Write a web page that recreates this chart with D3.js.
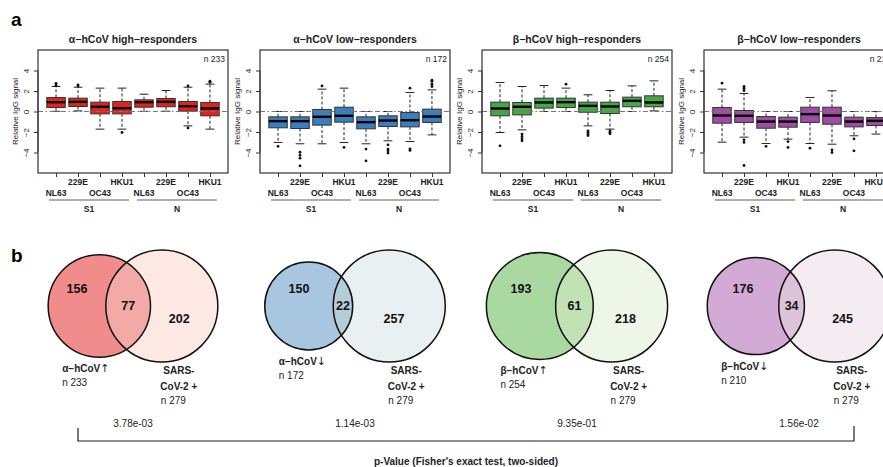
<!DOCTYPE html>
<html>
<head>
<meta charset="utf-8">
<script src="https://cdn.jsdelivr.net/npm/d3@7/dist/d3.min.js"></script>
<style>
  html, body { margin: 0; padding: 0; background: #fff; }
  svg { display: block; }
  text { font-family: "Liberation Sans", Arial, Helvetica, sans-serif; }
</style>
</head>
<body>
<svg id="fig" width="883" height="467"></svg>
<script>
// ---------- Panel a: box plots of relative IgG signal ----------
const antigens = ["NL63", "229E", "OC43", "HKU1", "NL63", "229E", "OC43", "HKU1"];
const proteinGroups = ["S1", "N"];
const panelTitles = ["α−hCoV high−responders", "α−hCoV low−responders", "β−hCoV high−responders", "β−hCoV low−responders"];
const panelN = [233, 172, 254, 210];
const yTicks = [-4, -2, 0, 2, 4];

// each box: [lower whisker, Q1, median, Q3, upper whisker]
const alphaHighBoxes = [
  [0.02, 0.39, 0.91, 1.37, 2.44], [0.06, 0.49, 0.94, 1.30, 2.37],
  [-1.72, -0.23, 0.46, 0.91, 2.28], [-1.72, -0.23, 0.32, 0.98, 2.28],
  [0.02, 0.42, 0.91, 1.14, 1.69], [0.03, 0.46, 0.94, 1.27, 2.05],
  [-1.40, 0.03, 0.52, 0.98, 2.37], [-1.72, -0.42, 0.30, 0.88, 2.67]
];
const alphaHighOutliers = [[2.55, 2.75], [2.48, 2.6], [], [-2.05], [], [], [2.5, -1.6], [2.85, 2.95]];

const alphaLowBoxes = [
  [-3.02, -1.59, -0.94, -0.52, 0.0], [-3.15, -1.66, -0.94, -0.52, 0.0],
  [-3.15, -1.33, -0.52, 0.20, 2.18], [-3.02, -1.04, -0.42, 0.42, 2.28],
  [-3.15, -1.69, -1.04, -0.52, 0.0], [-2.86, -1.46, -0.88, -0.42, 0.0],
  [-2.93, -1.50, -0.85, -0.10, 1.85], [-2.28, -1.07, -0.49, 0.23, 2.11]
];
const alphaLowOutliers = [[-3.4], [-3.97, -4.26, -4.55, -5.3], [2.5], [-3.5], [-3.67, -4.81],
  [-3.25, -3.67, -3.84, -4.06], [2.28, -3.64, -3.8], [2.44, 2.67, 2.93, 3.05]];

const betaHighBoxes = [
  [-2.05, -0.42, 0.29, 0.91, 2.83], [-1.79, -0.33, 0.46, 0.88, 2.44],
  [0.0, 0.33, 0.88, 1.30, 2.54], [0.0, 0.39, 0.91, 1.30, 2.28],
  [-1.40, -0.07, 0.55, 0.91, 1.63], [-1.72, -0.20, 0.49, 0.91, 2.05],
  [0.0, 0.46, 1.04, 1.40, 2.50], [0.06, 0.46, 0.88, 1.53, 2.99]
];
const betaHighOutliers = [[-3.35], [-2.2, -2.44, -2.67, -2.86], [], [2.67], [-1.89, -2.05, -2.2, -2.34],
  [-1.89, -2.02, -2.18], [], []];

const betaLowBoxes = [
  [-2.99, -1.14, -0.39, 0.39, 2.18], [-2.50, -1.07, -0.42, 0.10, 1.76],
  [-3.12, -1.63, -0.98, -0.49, 0.0], [-2.70, -1.53, -0.98, -0.55, 0.0],
  [-3.12, -1.07, -0.26, 0.42, 1.37], [-3.19, -1.24, -0.39, 0.42, 2.02],
  [-2.37, -1.50, -0.98, -0.55, 0.0], [-2.20, -1.37, -0.91, -0.59, 0.0]
];
const betaLowOutliers = [[2.76], [2.05, 2.28, 2.44, -2.76, -3.02, -5.27], [-3.4], [-2.93, -3.5], [-3.58],
  [-3.74, -4.0], [-2.67, -3.84], []];

const panelBoxes = [alphaHighBoxes, alphaLowBoxes, betaHighBoxes, betaLowBoxes];
const panelOutliers = [alphaHighOutliers, alphaLowOutliers, betaHighOutliers, betaLowOutliers];
const boxColors = ["#e2221c", "#3a7ebf", "#45a845", "#a04ca6"];

// ---------- Panel b: Venn diagrams ----------
const vennLeftLabels = ["α−hCoV", "α−hCoV", "β−hCoV", "β−hCoV"];
const vennArrows = ["↑", "↓", "↑", "↓"];
const vennLeftN = [233, 172, 254, 210];
const vennLeftOnly = [156, 150, 193, 176];
const vennShared = [77, 22, 61, 34];
const vennSarsOnly = [202, 257, 218, 245];
const sarsN = 279;
const pValues = ["3.78e-03", "1.14e-03", "9.35e-01", "1.56e-02"];
const vennLeftFill = ["#f08c8c", "#a8c6e0", "#a9d9a0", "#d3a9d5"];
const vennRightFill = ["#fde8e3", "#e9f0f2", "#eef6e8", "#f4ecf1"];
const vennOverlapFill = ["#f3aaa7", "#b6ccd8", "#c2e2b6", "#dcc3da"];

const svg = d3.select("#fig");
const colStep = 222;

// panel letters
svg.append("text").attr("x", 11).attr("y", 26).attr("font-size", 19).attr("font-weight", "bold").text("a");
svg.append("text").attr("x", 11).attr("y", 262).attr("font-size", 19).attr("font-weight", "bold").text("b");

panelBoxes.forEach((boxes, p) => {
  const left = 38 + colStep * p, width = 190, top = 50, bottom = 173;
  const x = d3.scaleLinear().domain([0.18, 8.82]).range([left, left + width]);
  const y = d3.scaleLinear().domain([-6, 6]).range([bottom, top]);
  const g = svg.append("g");
  const color = boxColors[p];

  g.append("text").attr("x", left + width / 2).attr("y", 43).attr("text-anchor", "middle")
    .attr("font-size", 10.5).attr("font-weight", "bold").attr("fill", "#222").text(panelTitles[p]);

  // y axis with rotated tick labels
  const yAxis = d3.axisLeft(y).tickValues(yTicks).tickSize(4).tickPadding(2);
  const ya = g.append("g").attr("transform", `translate(${left},0)`).call(yAxis);
  ya.select(".domain").attr("d", `M0,${y(-4)}V${y(4)}`).attr("stroke", "#333");
  ya.selectAll(".tick line").attr("stroke", "#333");
  ya.selectAll(".tick text").attr("font-size", 8).attr("fill", "#222")
    .attr("font-family", "Liberation Sans, Arial, sans-serif")
    .attr("text-anchor", "middle").attr("transform", "rotate(-90)")
    .attr("x", 0).attr("y", -9).attr("dy", "0em");

  g.append("text").attr("transform", `translate(${left - 20},${y(0)}) rotate(-90)`)
    .attr("text-anchor", "middle").attr("font-size", 8).attr("fill", "#222").text("Relative IgG signal");

  // x ticks
  const xa = g.append("g").attr("transform", `translate(0,${bottom})`)
    .call(d3.axisBottom(x).tickValues(d3.range(1, 9)).tickSize(4).tickFormat(""));
  xa.select(".domain").remove();
  xa.selectAll(".tick line").attr("stroke", "#333");

  antigens.forEach((a, i) => {
    const up = i % 2 === 1;
    g.append("text").attr("x", x(i + 1)).attr("y", up ? 185 : 196).attr("text-anchor", "middle")
      .attr("font-size", 8.5).attr("font-weight", "bold").attr("fill", "#222").text(a);
  });
  proteinGroups.forEach((gr, k) => {
    const x0 = x(1 + 4 * k) - 7, x1 = x(4 + 4 * k) + 7;
    g.append("line").attr("x1", x0).attr("x2", x1).attr("y1", 200).attr("y2", 200)
      .attr("stroke", "#333").attr("stroke-width", 0.8);
    g.append("text").attr("x", (x0 + x1) / 2).attr("y", 212).attr("text-anchor", "middle")
      .attr("font-size", 8.5).attr("font-weight", "bold").attr("fill", "#222").text(gr);
  });

  const clipId = "clipA" + p;
  g.append("clipPath").attr("id", clipId).append("rect")
    .attr("x", left).attr("y", top).attr("width", width).attr("height", bottom - top);
  const plot = g.append("g").attr("clip-path", `url(#${clipId})`);

  const bw = x(0.84) - x(0), cw = x(0.4) - x(0);
  boxes.forEach((b, i) => {
    const cx = x(i + 1);
    const [lo, q1, med, q3, hi] = b;
    // whiskers
    plot.append("line").attr("x1", cx).attr("x2", cx).attr("y1", y(q3)).attr("y2", y(hi))
      .attr("stroke", "#222").attr("stroke-dasharray", "3,2").attr("stroke-width", 1);
    plot.append("line").attr("x1", cx).attr("x2", cx).attr("y1", y(q1)).attr("y2", y(lo))
      .attr("stroke", "#222").attr("stroke-dasharray", "3,2").attr("stroke-width", 1);
    [lo, hi].forEach(v => plot.append("line").attr("x1", cx - cw / 2).attr("x2", cx + cw / 2)
      .attr("y1", y(v)).attr("y2", y(v)).attr("stroke", "#222").attr("stroke-width", 1));
    plot.append("rect").attr("x", cx - bw / 2).attr("y", y(q3)).attr("width", bw)
      .attr("height", y(q1) - y(q3)).attr("fill", color).attr("stroke", "#333").attr("stroke-width", 1);
    plot.append("line").attr("x1", cx - bw / 2).attr("x2", cx + bw / 2)
      .attr("y1", y(med)).attr("y2", y(med)).attr("stroke", "#000").attr("stroke-width", 2.4);
    panelOutliers[p][i].forEach(v => plot.append("circle").attr("cx", cx).attr("cy", y(v))
      .attr("r", 1.4).attr("fill", "#111"));
  });

  // reference line at zero
  plot.append("line").attr("x1", left).attr("x2", left + width).attr("y1", y(0)).attr("y2", y(0))
    .attr("stroke", "#777").attr("stroke-width", 1).attr("stroke-dasharray", "5,2.5,1.5,2.5");

  g.append("rect").attr("x", left).attr("y", top).attr("width", width).attr("height", bottom - top)
    .attr("fill", "none").attr("stroke", "#333").attr("stroke-width", 1.2);

  g.append("text").attr("x", left + width - 3).attr("y", 62).attr("text-anchor", "end")
    .attr("font-size", 8.5).attr("fill", "#222").text("n " + panelN[p]);
});

// ---------- Venn diagrams, area proportional to counts ----------
const rScale = d3.scaleSqrt().domain([0, sarsN]).range([0, 56]);

function lensArea(r1, r2, d) {
  if (d >= r1 + r2) return 0;
  if (d <= Math.abs(r1 - r2)) return Math.PI * Math.min(r1, r2) ** 2;
  const a1 = r1 * r1 * Math.acos((d * d + r1 * r1 - r2 * r2) / (2 * d * r1));
  const a2 = r2 * r2 * Math.acos((d * d + r2 * r2 - r1 * r1) / (2 * d * r2));
  const t = 0.5 * Math.sqrt((-d + r1 + r2) * (d + r1 - r2) * (d - r1 + r2) * (d + r1 + r2));
  return a1 + a2 - t;
}
function centerDistance(r1, r2, target) {
  let lo = Math.abs(r1 - r2), hi = r1 + r2;
  for (let k = 0; k < 60; k++) {
    const mid = (lo + hi) / 2;
    if (lensArea(r1, r2, mid) > target) lo = mid; else hi = mid;
  }
  return (lo + hi) / 2;
}

const vennCy = 306;
vennLeftN.forEach((n, i) => {
  const colX = 133 + colStep * i;
  const r1 = rScale(n), r2 = rScale(sarsN);
  const d = centerDistance(r1, r2, Math.PI * rScale(vennShared[i]) ** 2);
  const total = r1 + d + r2;
  const c1 = colX - total / 2 + r1, c2 = c1 + d;
  const g = svg.append("g");

  g.append("circle").attr("cx", c1).attr("cy", vennCy).attr("r", r1).attr("fill", vennLeftFill[i]);
  g.append("circle").attr("cx", c2).attr("cy", vennCy).attr("r", r2).attr("fill", vennRightFill[i]);
  const cid = "vclip" + i;
  g.append("clipPath").attr("id", cid).append("circle").attr("cx", c1).attr("cy", vennCy).attr("r", r1);
  g.append("circle").attr("cx", c2).attr("cy", vennCy).attr("r", r2).attr("fill", vennOverlapFill[i])
    .attr("clip-path", `url(#${cid})`);
  [[c1, r1], [c2, r2]].forEach(([c, r]) => g.append("circle").attr("cx", c).attr("cy", vennCy).attr("r", r)
    .attr("fill", "none").attr("stroke", "#111").attr("stroke-width", 1.5));

  const numStyle = s => s.attr("text-anchor", "middle").attr("font-size", 12.5).attr("font-weight", "bold")
    .attr("font-family", "DejaVu Sans, Verdana, sans-serif").attr("fill", "#111");
  g.append("text").attr("x", (c1 - r1 + c2 - r2) / 2).attr("y", vennCy - 13).call(numStyle).text(vennLeftOnly[i]);
  g.append("text").attr("x", (c1 + r1 + c2 - r2) / 2).attr("y", vennCy + 4).call(numStyle).text(vennShared[i]);
  g.append("text").attr("x", (c1 + r1 + c2 + r2) / 2 - 5).attr("y", vennCy + 17).call(numStyle).text(vennSarsOnly[i]);

  const lx = c1 - r1 + 14, ly = vennCy + r1 + 15;
  const lab = g.append("text").attr("x", lx).attr("y", ly).attr("font-size", 10).attr("font-weight", "bold")
    .attr("fill", "#222").text(vennLeftLabels[i]);
  lab.append("tspan").attr("font-family", "DejaVu Sans, sans-serif").attr("font-weight", "normal")
    .attr("font-size", 11).text(vennArrows[i]);
  g.append("text").attr("x", lx).attr("y", ly + 14).attr("font-size", 10).attr("fill", "#222").text("n " + n);

  const sx = c2 + 17;
  g.append("text").attr("x", sx).attr("y", 374).attr("text-anchor", "middle").attr("font-size", 10)
    .attr("font-weight", "bold").attr("fill", "#222").text("SARS-");
  g.append("text").attr("x", sx).attr("y", 390).attr("text-anchor", "middle").attr("font-size", 10)
    .attr("font-weight", "bold").attr("fill", "#222").text("CoV-2 +");
  g.append("text").attr("x", sx - 18).attr("y", 404).attr("font-size", 10).attr("fill", "#222").text("n " + sarsN);

  svg.append("text").attr("x", colX).attr("y", 427).attr("text-anchor", "middle").attr("font-size", 10)
    .attr("fill", "#222").text(pValues[i]);
});

// bracket spanning the p-values
const bx0 = 133 - 55, bx1 = 133 + colStep * 3 + 55;
svg.append("path").attr("d", `M${bx0},428V441H${bx1}V426`).attr("fill", "none")
  .attr("stroke", "#222").attr("stroke-width", 1.2);
svg.append("text").attr("x", 466).attr("y", 465).attr("text-anchor", "middle").attr("font-size", 10)
  .attr("font-weight", "bold").attr("fill", "#222").text("p-Value (Fisher's exact test, two-sided)");
</script>
</body>
</html>
